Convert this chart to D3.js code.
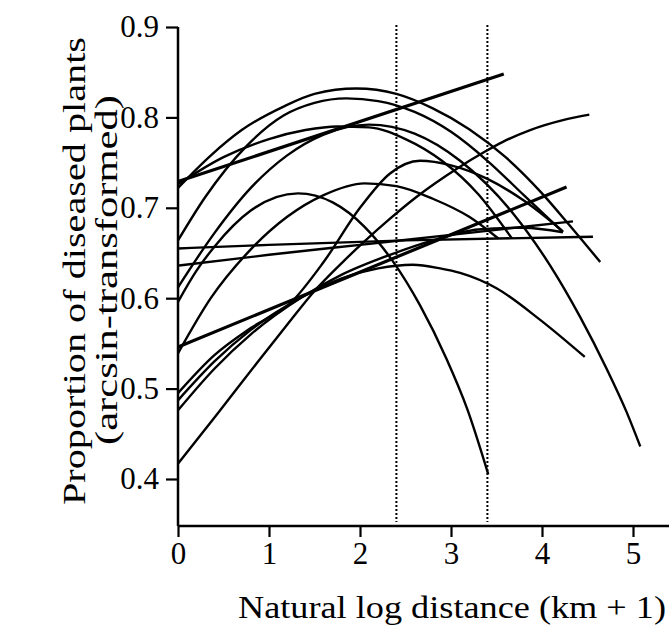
<!DOCTYPE html>
<html>
<head>
<meta charset="utf-8">
<script src="https://cdn.jsdelivr.net/npm/d3@7"></script>
<style>
  html, body { margin: 0; padding: 0; background: #fff; }
  svg { display: block; }
  text { font-family: "Liberation Serif", "Times New Roman", Times, serif; fill: #000; }
</style>
</head>
<body>
<svg id="chart" width="669" height="632"></svg>
<script>
// ---- data ----
const xTicks = [0, 1, 2, 3, 4, 5];
const yTicks = [0.4, 0.5, 0.6, 0.7, 0.8, 0.9];
const yTickLabels = ["0.4", "0.5", "0.6", "0.7", "0.8", "0.9"];
const refLines = [2.40, 3.40];

const lineA  = [[0,0.729],[3.58,0.848]];
const lineC  = [[0,0.546],[4.27,0.723]];
const lineH  = [[0,0.655],[1,0.659],[2.5,0.664],[4.56,0.668]];
const lineL  = [[0,0.636],[1,0.648],[2,0.659],[3,0.670],[4.34,0.685]];
const curveE = [[0,0.417],[0.44,0.473],[0.88,0.530],[1.21,0.572],[1.5,0.608],[1.81,0.640],[2.04,0.662],[2.33,0.688],[2.62,0.712],[3.06,0.743],[3.37,0.762],[3.57,0.773],[3.87,0.786],[4.23,0.797],[4.52,0.803]];
const curveP1 = [[0,0.722],[0.35,0.757],[0.7,0.786],[1.16,0.812],[1.5,0.826],[1.96,0.832],[2.4,0.826],[2.8,0.810],[3.2,0.787],[3.6,0.756],[4.0,0.716],[4.3,0.681],[4.64,0.640]];
const curveP2 = [[0,0.664],[0.3,0.712],[0.75,0.768],[1.16,0.802],[1.5,0.816],[1.85,0.821],[2.2,0.818],[2.6,0.806],[3.0,0.784],[3.4,0.752],[3.8,0.714],[4.23,0.673]];
const curveP3 = [[0,0.726],[0.5,0.756],[1.0,0.776],[1.4,0.786],[1.75,0.790],[2.1,0.789],[2.5,0.776],[2.9,0.752],[3.3,0.715],[3.67,0.666]];
const curveP4 = [[0,0.612],[0.4,0.672],[0.8,0.722],[1.2,0.758],[1.6,0.781],[2.1,0.792],[2.6,0.782],[3.1,0.752],[3.68,0.694],[4.09,0.636],[4.42,0.579],[4.71,0.522],[4.93,0.474],[5.08,0.436]];
const curveP5 = [[0,0.539],[0.36,0.600],[0.8,0.654],[1.2,0.690],[1.6,0.714],[2.05,0.727],[2.4,0.724],[2.8,0.710],[3.2,0.690],[3.52,0.666]];
const curveP6 = [[0,0.596],[0.2,0.630],[0.4,0.657],[0.8,0.697],[1.32,0.716],[1.7,0.706],[2.05,0.679],[2.36,0.641],[2.66,0.592],[2.95,0.533],[3.18,0.477],[3.41,0.405]];
const curveP7 = [[0,0.495],[0.4,0.537],[0.8,0.567],[1.23,0.594],[1.6,0.640],[2.0,0.700],[2.33,0.738],[2.66,0.752],[3.0,0.747],[3.4,0.732],[3.8,0.708],[4.23,0.674]];
const curveP8 = [[0,0.487],[0.4,0.530],[0.8,0.565],[1.36,0.601],[1.8,0.622],[2.2,0.633],[2.58,0.637],[2.88,0.633],[3.1,0.628],[3.5,0.611],[3.98,0.576],[4.47,0.535]];
const curveP9 = [[0,0.476],[0.4,0.522],[0.8,0.560],[1.36,0.601],[1.8,0.626],[2.33,0.648],[2.8,0.664],[3.3,0.676],[3.8,0.678],[4.23,0.673]];

const thinCurves = [lineH, lineL, curveE, curveP1, curveP2, curveP3, curveP4, curveP5, curveP6, curveP7, curveP8, curveP9];
const thickLines = [lineA, lineC];

// ---- drawing ----
const svg = d3.select("#chart");
const x = d3.scaleLinear().domain([0, 5.4]).range([178, 669.4]);
const y = d3.scaleLinear().domain([0.348, 0.9]).range([526, 27]);

const line = d3.line().x(d => x(d[0])).y(d => y(d[1])).curve(d3.curveMonotoneX);

svg.append("g").selectAll("path").data(thinCurves).join("path")
  .attr("d", line).attr("fill", "none").attr("stroke", "#000")
  .attr("stroke-width", 2.4).attr("stroke-linecap", "butt");
svg.append("g").selectAll("path").data(thickLines).join("path")
  .attr("d", line).attr("fill", "none").attr("stroke", "#000")
  .attr("stroke-width", 3.2).attr("stroke-linecap", "butt");

// dotted reference lines
svg.append("g").selectAll("line").data(refLines).join("line")
  .attr("x1", d => x(d)).attr("x2", d => x(d))
  .attr("y1", 25).attr("y2", 522)
  .attr("stroke", "#000").attr("stroke-width", 2).attr("stroke-dasharray", "2,2");

// axes
const yAxis = d3.axisLeft(y).tickValues(yTicks).tickFormat((d, i) => yTickLabels[i]).tickSize(12).tickPadding(7);
const gy = svg.append("g").attr("transform", "translate(178,0)").call(yAxis);
gy.attr("font-family", null);
gy.select(".domain").attr("d", `M0,${y(0.9)}V526`).attr("stroke-width", 2.5);
gy.selectAll(".tick line").attr("stroke-width", 2.2);
gy.selectAll(".tick text").attr("font-size", 31);

const xAxis = d3.axisBottom(x).tickValues(xTicks).tickFormat(d3.format("d")).tickSize(11).tickPadding(5);
const gx = svg.append("g").attr("transform", "translate(0,526)").call(xAxis);
gx.attr("font-family", null);
gx.select(".domain").attr("d", `M178,0H669`).attr("stroke-width", 2.5);
gx.selectAll(".tick line").attr("stroke-width", 2.2);
gx.selectAll(".tick text").attr("font-size", 31);

// titles
svg.append("text").attr("x", 452).attr("y", 618).attr("text-anchor", "middle")
  .attr("font-size", 32).attr("textLength", 428).attr("lengthAdjust", "spacingAndGlyphs")
  .text("Natural log distance (km + 1)");
svg.append("text").attr("transform", "translate(85,271) rotate(-90)").attr("text-anchor", "middle")
  .attr("font-size", 31).attr("textLength", 468).attr("lengthAdjust", "spacingAndGlyphs")
  .text("Proportion of diseased plants");
svg.append("text").attr("transform", "translate(117,270) rotate(-90)").attr("text-anchor", "middle")
  .attr("font-size", 31).attr("textLength", 350).attr("lengthAdjust", "spacingAndGlyphs")
  .text("(arcsin-transformed)");
</script>
</body>
</html>
